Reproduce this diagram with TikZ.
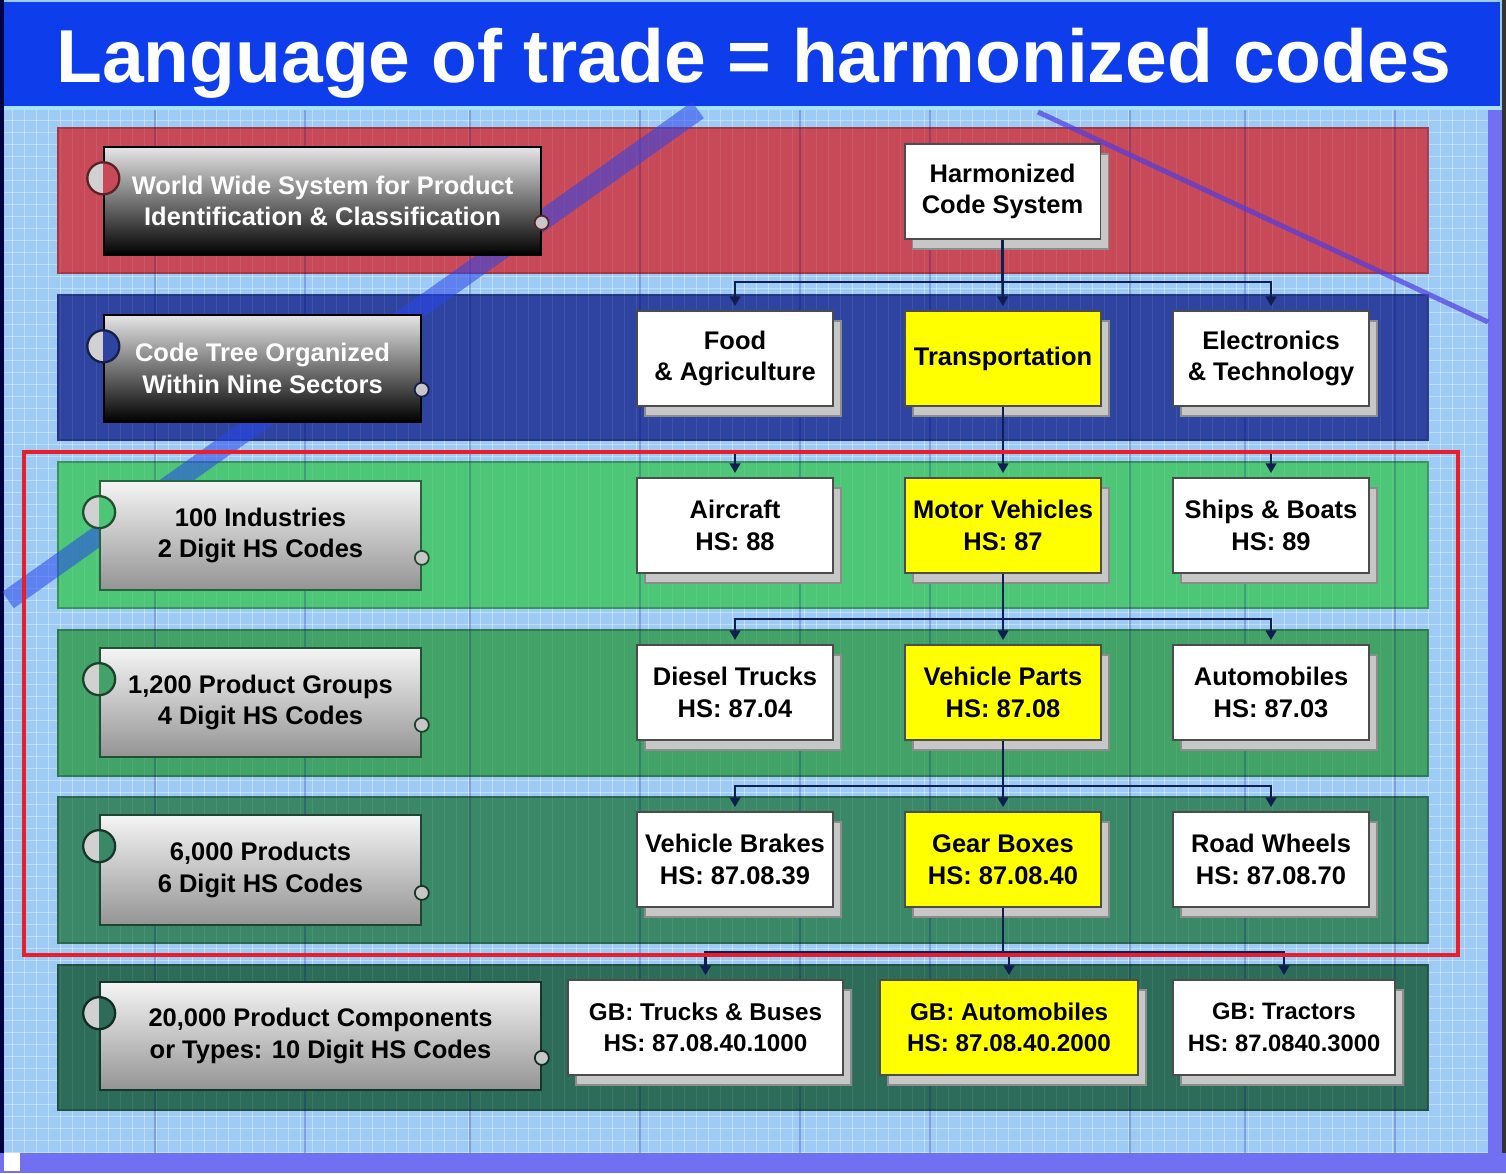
\documentclass[tikz,border=0pt]{standalone}
\usepackage{fontspec}
\setmainfont{Liberation Sans}
\usetikzlibrary{shadows,arrows.meta,calc}
\definecolor{bg}{RGB}{158,202,246}
\definecolor{titleblue}{RGB}{14,62,236}
\definecolor{bandred}{RGB}{200,74,88}
\definecolor{bandblue}{RGB}{46,68,160}
\definecolor{bandgA}{RGB}{78,198,120}
\definecolor{bandgB}{RGB}{66,162,104}
\definecolor{bandgC}{RGB}{58,136,104}
\definecolor{bandgD}{RGB}{44,108,88}
\definecolor{conn}{RGB}{14,30,80}
\definecolor{hl}{RGB}{255,255,0}
\definecolor{outred}{RGB}{232,30,42}
\definecolor{stripe}{RGB}{40,70,235}
\definecolor{stripeb}{RGB}{80,60,225}
\definecolor{purp}{RGB}{112,112,240}
\newcommand\lblcirc[3]{%
  \coordinate (#1c) at ($(#1.north west)+(0,32)$);
  \begin{scope}
    \clip (#1c) circle[radius=0.32cm];
    \fill[black!18] ($(#1c)+(-20,-20)$) rectangle ($(#1c)+(0,20)$);
    \fill[#2] ($(#1c)+(0,-20)$) rectangle ($(#1c)+(20,20)$);
  \end{scope}
  \draw[#3, line width=1.3pt] (#1c) circle[radius=0.32cm];
  \draw[#3, line width=1pt, fill=black!22] ($(#1.south east)+(0,-33)$) circle[radius=0.14cm];
}
\begin{document}
\begin{tikzpicture}[x=0.02cm,y=-0.02cm,
  txt/.style={font=\fontsize{14.5}{18}\selectfont\bfseries},
  box/.style={txt, draw=black!70, line width=1.1pt, fill=white,
    minimum width=3.92cm, minimum height=1.9cm, inner sep=0pt, align=center,
    general shadow={fill=black!22, draw=black!45, line width=0.8pt,
      shadow xshift=0.16cm, shadow yshift=-0.2cm}},
  ybox/.style={box, fill=hl},
  dlabel/.style={txt, draw=black, line width=0.8pt, top color=black!10,
    bottom color=black, middle color=black!55, text=white, align=center, inner sep=0pt},
  llabel/.style={txt, line width=1pt, top color=black!4, bottom color=black!42,
    text=black, align=center, inner sep=0pt},
  line/.style={draw=conn, line width=1.4pt},
  arr/.style={line, -{Triangle[width=6pt,length=5.5pt]}, shorten >=0.08cm},
  band/.style={line width=1pt},
]
\useasboundingbox (0,0) rectangle (1506,1173);
% background
\fill[bg] (0,0) rectangle (1506,1173);
\foreach \x in {0,12,...,1500} \draw[white, opacity=0.35, line width=0.3pt] (\x,108) -- (\x,1155);
\foreach \y in {108,120,...,1155} \draw[white, opacity=0.35, line width=0.3pt] (0,\y) -- (1490,\y);
% title bar and frame
\fill[black!75!blue] (0,0) rectangle (4,1173);
\fill[titleblue] (4,2) rectangle (1500,106);
\fill[cyan!35!white] (4,106) rectangle (1500,110);
\fill[purp] (1488,110) rectangle (1506,1173);
\fill[black!80] (1502,0) rectangle (1506,1173);
\fill[purp] (0,1153) rectangle (1506,1173);
\fill[white] (4,1153) rectangle (20,1171);
\node[anchor=base, text=white, font=\fontsize{42.7}{50}\selectfont\bfseries] (title) at (753.5,82) {Language of trade = harmonized codes};
% bands
\filldraw[band, fill=bandred, draw=bandred!80!black] (58,128) rectangle (1428,273);
\filldraw[band, fill=bandblue, draw=bandblue!80!black] (58,295) rectangle (1428,440);
\filldraw[band, fill=bandgA, draw=bandgA!75!black] (58,462) rectangle (1428,608);
\filldraw[band, fill=bandgB, draw=bandgB!75!black] (58,630) rectangle (1428,776);
\filldraw[band, fill=bandgC, draw=bandgC!75!black] (58,797) rectangle (1428,943);
\filldraw[band, fill=bandgD, draw=bandgD!75!black] (58,965) rectangle (1428,1110);
\foreach \x in {60,72,...,1428} \draw[white, opacity=0.08, line width=0.3pt] (\x,128) -- (\x,1110);
\foreach \x in {155,305,470,640,800,930,1130,1245,1395} \draw[blue!50!black, opacity=0.2, line width=0.6pt] (\x,110) -- (\x,1153);
% decorative diagonals
\draw[stripe, opacity=0.55, line width=0.4cm] (698,110) -- (8,600);
\draw[stripeb, opacity=0.7, line width=0.1cm] (1038,112) -- (1488,322);
% content boxes
\node[box] (H) at (1002.5,191.5) {Harmonized\\Code System};
\node[box] (F) at (735,358.5) {Food\\\& Agriculture};
\node[ybox] (T) at (1003,358.5) {Transportation};
\node[box] (E) at (1271,358.5) {Electronics\\\& Technology};
\node[box] (AC) at (735,525.5) {Aircraft\\HS: 88};
\node[ybox] (MV) at (1003,525.5) {Motor Vehicles\\HS: 87};
\node[box] (SB) at (1271,525.5) {Ships \& Boats\\HS: 89};
\node[box] (DT) at (735,692.5) {Diesel Trucks\\HS: 87.04};
\node[ybox] (VP) at (1003,692.5) {Vehicle Parts\\HS: 87.08};
\node[box] (AU) at (1271,692.5) {Automobiles\\HS: 87.03};
\node[box] (VB) at (735,859.5) {Vehicle Brakes\\HS: 87.08.39};
\node[ybox] (GB) at (1003,859.5) {Gear Boxes\\HS: 87.08.40};
\node[box] (RW) at (1271,859.5) {Road Wheels\\HS: 87.08.70};
\node[box, minimum width=5.5cm, font=\fontsize{13.8}{18}\selectfont\bfseries] (TB) at (705.5,1027.5) {GB: Trucks \& Buses\\HS: 87.08.40.1000};
\node[ybox, minimum width=5.16cm, font=\fontsize{13.8}{18}\selectfont\bfseries] (AM) at (1009,1027.5) {GB: Automobiles\\HS: 87.08.40.2000};
\node[box, minimum width=4.44cm, font=\fontsize{13.5}{18}\selectfont\bfseries] (TR) at (1284,1027.5) {GB: Tractors\\HS: 87.0840.3000};
% connectors
\draw[line] (H.south) -- (H.south |- 0,282) coordinate (b2);
\draw[arr] (b2) -| (F.north);
\draw[arr] (b2) -- (T.north);
\draw[arr] (b2) -| (E.north);
\draw[line] (T.south) -- (T.south |- 0,452) coordinate (b3);
\draw[arr] (b3) -| (AC.north);
\draw[arr] (b3) -- (MV.north);
\draw[arr] (b3) -| (SB.north);
\draw[line] (MV.south) -- (MV.south |- 0,619) coordinate (b4);
\draw[arr] (b4) -| (DT.north);
\draw[arr] (b4) -- (VP.north);
\draw[arr] (b4) -| (AU.north);
\draw[line] (VP.south) -- (VP.south |- 0,786) coordinate (b5);
\draw[arr] (b5) -| (VB.north);
\draw[arr] (b5) -- (GB.north);
\draw[arr] (b5) -| (RW.north);
\draw[line] (GB.south) -- (GB.south |- 0,952) coordinate (b6);
\draw[arr] (b6) -| (TB.north);
\draw[arr] (b6) -| (AM.north);
\draw[arr] (b6) -| (TR.north);
% red outline
\draw[outred, line width=2.3pt] (24,452) rectangle (1458,955);
% left labels
\node[dlabel, minimum width=8.74cm, minimum height=2.16cm] (L1) at (322.5,201) {World Wide System for Product\\Identification \& Classification};
\node[dlabel, minimum width=6.34cm, minimum height=2.14cm] (L2) at (262.5,368.5) {Code Tree Organized\\Within Nine Sectors};
\node[llabel, draw=bandgA!50!black, minimum width=6.42cm, minimum height=2.18cm] (L3) at (260.5,535.5) {100 Industries\\2 Digit HS Codes};
\node[llabel, draw=bandgB!50!black, minimum width=6.42cm, minimum height=2.18cm] (L4) at (260.5,702.5) {1,200 Product Groups\\4 Digit HS Codes};
\node[llabel, draw=bandgC!50!black, minimum width=6.42cm, minimum height=2.2cm] (L5) at (260.5,870) {6,000 Products\\6 Digit HS Codes};
\node[llabel, draw=bandgD!50!black, minimum width=8.82cm, minimum height=2.16cm] (L6) at (320.5,1036) {20,000 Product Components\\or Types: 10 Digit HS Codes};
\lblcirc{L1}{bandred}{bandred!45!black}
\lblcirc{L2}{bandblue}{bandblue!45!black}
\lblcirc{L3}{bandgA}{bandgA!40!black}
\lblcirc{L4}{bandgB}{bandgB!40!black}
\lblcirc{L5}{bandgC}{bandgC!40!black}
\lblcirc{L6}{bandgD}{bandgD!40!black}
\end{tikzpicture}
\end{document}
